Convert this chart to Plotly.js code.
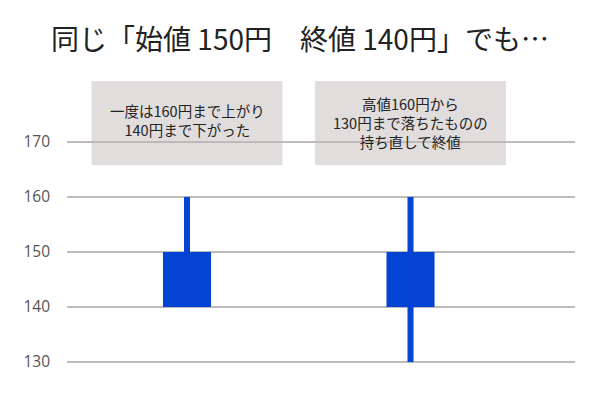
<!DOCTYPE html>
<html>
<head>
<meta charset="utf-8">
<script src="https://cdn.plot.ly/plotly-3.0.1.min.js"></script>
<style>html,body{margin:0;padding:0;background:#fff;}#chart{width:600px;height:400px;}</style>
</head>
<body>
<div id="chart"></div>
<script>
// Data
const categories = [0, 1];
const openVals  = [150, 150];
const highVals  = [160, 160];
const lowVals   = [140, 130];
const closeVals = [140, 140];
const tickVals  = [130, 140, 150, 160, 170];
const tickText  = ['130', '140', '150', '160', '170'];
const noteTexts = [
  '一度は160円まで上がり<br>140円まで下がった',
  '高値160円から<br>130円まで落ちたものの<br>持ち直して終値'
];
const titleText = '同じ「始値 150円　終値 140円」でも…';

const candleColor = '#0444d4';
const cjk = '"Noto Sans CJK JP", "Noto Sans", sans-serif';

const wick = {
  type: 'bar',
  x: categories,
  base: lowVals,
  y: highVals.map((h, i) => h - lowVals[i]),
  width: 0.027,
  marker: {color: candleColor, line: {width: 0}},
  hoverinfo: 'skip'
};
const body = {
  type: 'bar',
  x: categories,
  base: categories.map((_, i) => Math.min(openVals[i], closeVals[i])),
  y: categories.map((_, i) => Math.abs(openVals[i] - closeVals[i])),
  width: 0.215,
  marker: {color: candleColor, line: {width: 0}},
  hoverinfo: 'skip'
};

const boxHalf = 0.427, boxLow = 165.8, boxHigh = 181.1;
const shapes = categories.map(c => ({
  type: 'rect', xref: 'x', yref: 'y', layer: 'below',
  x0: c - boxHalf, x1: c + boxHalf, y0: boxLow, y1: boxHigh,
  fillcolor: '#e1dddd', line: {width: 0}
}));
const annotations = categories.map((c, i) => ({
  x: c, y: (boxLow + boxHigh) / 2 + (i === 0 ? 0.5 : 0.1), xref: 'x', yref: 'y',
  text: noteTexts[i], showarrow: false,
  font: {family: cjk, size: 14.5, color: '#222'},
  align: 'center'
}));

const layout = {
  width: 600, height: 400,
  margin: {l: 67, r: 25, t: 70, b: 22},
  paper_bgcolor: '#fff', plot_bgcolor: '#fff',
  showlegend: false,
  barmode: 'overlay',
  title: {text: titleText, x: 0.5, xref: 'container', xanchor: 'center',
          y: 0.9, yref: 'container', yanchor: 'middle',
          font: {family: cjk, size: 28, color: '#222'}},
  xaxis: {range: [-0.537, 1.736], showgrid: false, zeroline: false, showticklabels: false,
          showline: false, ticks: '', fixedrange: true},
  yaxis: {range: [127.09, 183.09], tickvals: tickVals, ticktext: tickText,
          showgrid: true, gridcolor: '#bfb9b9', gridwidth: 2, zeroline: false, showline: false,
          ticks: '', ticklabelstandoff: 16,
          tickfont: {family: '"Open Sans", "Noto Sans", sans-serif', size: 15.5, color: '#555'}},
  shapes: shapes,
  annotations: annotations
};

Plotly.newPlot('chart', [wick, body], layout, {displayModeBar: false, staticPlot: true});
</script>
</body>
</html>
